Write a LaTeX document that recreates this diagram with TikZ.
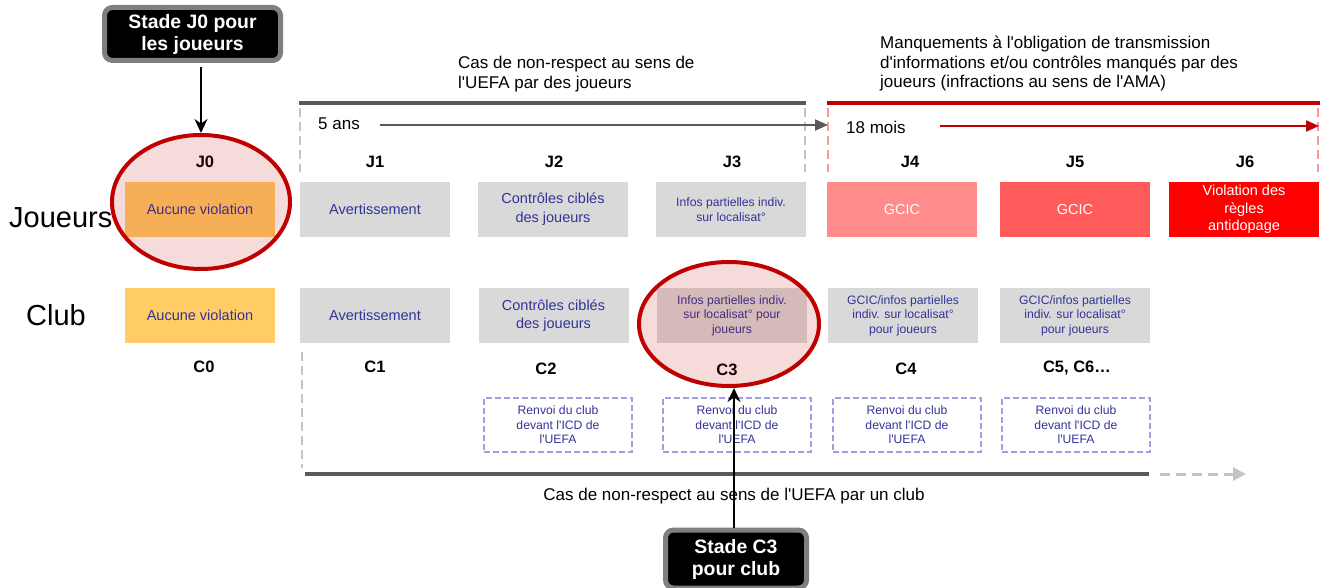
\documentclass[tikz,border=0pt]{standalone}
\usepackage{fontspec}
\setmainfont{Liberation Sans}[Ligatures=TeXOff]
\usepackage{tikz}
\usetikzlibrary{arrows.meta, positioning, calc, shapes.geometric}
\definecolor{UefaGray}{HTML}{595959}
\definecolor{DashGray}{HTML}{C4C4C4}
\definecolor{BoxGray}{HTML}{D9D9D9}
\definecolor{TxtBlue}{RGB}{51, 51, 153}
\definecolor{NoneOrange}{HTML}{FFCC66}
\definecolor{DarkRed}{HTML}{C00000}
\definecolor{PinkDash}{HTML}{FF9999}
\definecolor{RedLight}{HTML}{FF8B8B}
\definecolor{RedMid}{HTML}{FF5B5B}
\definecolor{RedFull}{HTML}{FF0000}
\definecolor{IcdLilac}{HTML}{A0A0E0}
\definecolor{FrameGray}{HTML}{7F7F7F}

\begin{document}
\begin{tikzpicture}[x=1pt, y=-1pt,
        stage/.style={minimum width=150pt, minimum height=55pt, inner sep=1pt, align=center, text=TxtBlue, font=\fontsize{14.5}{19}\selectfont},
        graybox/.style={stage, fill=BoxGray},
        small/.style={font=\fontsize{12.2}{14.5}\selectfont},
        lbl/.style={font=\bfseries\fontsize{16.5}{19}\selectfont},
        plain/.style={inner sep=0pt, align=left, font=\fontsize{17}{19.5}\selectfont},
        icd/.style={draw=IcdLilac, line width=2pt, dash pattern=on 6pt off 3pt, minimum width=148pt, minimum height=54pt, inner sep=1pt, align=center, text=TxtBlue, font=\fontsize{12.2}{14.5}\selectfont},
        circled/.style={ellipse, draw=DarkRed, line width=4pt, fill=DarkRed, fill opacity=0.14, inner sep=0pt},
        stade/.style={fill=black, draw=FrameGray, line width=5pt, rounded corners=8pt, text=white, align=center, font=\bfseries\fontsize{19.4}{22}\selectfont}]
    \useasboundingbox (0,0) rectangle (1320,588);

    % en-tetes
    \node[plain, anchor=west] (casJ) at (458,74) {Cas de non-respect au sens de\\l'UEFA par des joueurs};
    \node[plain, anchor=west] (ama) at (880,64) {Manquements à l'obligation de transmission\\d'informations et/ou contrôles manqués par des\\joueurs (infractions au sens de l'AMA)};
    \draw[UefaGray, line width=4pt] (299,103) -- (806,103);
    \draw[DarkRed, line width=4pt] (827,103) -- (1320,103);
    \draw[DashGray, line width=2.5pt, dash pattern=on 9pt off 5pt] (300,108) -- (300,172);
    \draw[DashGray, line width=2.5pt, dash pattern=on 9pt off 5pt] (805,108) -- (805,172);
    \draw[PinkDash, line width=2.5pt, dash pattern=on 9pt off 5pt] (828,108) -- (828,172);
    \draw[PinkDash, line width=2.5pt, dash pattern=on 9pt off 5pt] (1318,108) -- (1318,172);

    \node[plain, anchor=west] (cinq) at (318,124) {5 ans};
    \coordinate (cinqA) at (380,125);
    \coordinate (cinqB) at (828,125);
    \draw[->, >={Triangle[length=13pt, width=11pt]}, UefaGray, line width=2pt] (cinqA) -- (cinqB);
    \node[plain, anchor=west] (dixhuit) at (846,127) {18 mois};
    \coordinate (dixA) at (940,126);
    \coordinate (dixB) at (1319,126);
    \draw[->, >={Triangle[length=13pt, width=11pt]}, DarkRed, line width=2pt] (dixA) -- (dixB);

    % joueurs
    \node[font=\fontsize{29}{32}\selectfont, inner sep=0pt, anchor=west] (joueurs) at (9,218) {Joueurs};
    \node[lbl] (lj0) at (205,162) {J0};
    \node[lbl] (lj1) at (375,162) {J1};
    \node[lbl] (lj2) at (554,162) {J2};
    \node[lbl] (lj3) at (732,162) {J3};
    \node[lbl] (lj4) at (910,162) {J4};
    \node[lbl] (lj5) at (1075,162) {J5};
    \node[lbl] (lj6) at (1245,162) {J6};

    \node[stage, fill=NoneOrange] (j0) at (200,209.5) {Aucune violation};
    \node[graybox] (j1) at (375,209.5) {Avertissement};
    \node[graybox] (j2) at (553,209.5) {Contrôles ciblés\\des joueurs};
    \node[graybox, small] (j3) at (731,209.5) {Infos partielles indiv.\\sur localisat°};
    \node[stage, fill=RedLight, text=white] (j4) at (902,209.5) {GCIC};
    \node[stage, fill=RedMid, text=white] (j5) at (1075,209.5) {GCIC};
    \node[stage, fill=RedFull, text=white, font=\fontsize{14.5}{17.5}\selectfont] (j6) at (1244,209.5) {Violation des\\règles\\antidopage};

    % club
    \node[font=\fontsize{29}{32}\selectfont, inner sep=0pt] (club) at (56,315) {Club};
    \node[stage, fill=NoneOrange] (c0) at (200,315.5) {Aucune violation};
    \node[graybox] (c1) at (375,315.5) {Avertissement};
    \node[graybox, font=\fontsize{14.5}{18.5}\selectfont] (c2) at (553.5,315.5) {Contrôles ciblés\\des joueurs};
    \node[graybox, small] (c3) at (732,315.5) {Infos partielles indiv.\\sur localisat° pour\\joueurs};
    \node[graybox, small] (c4) at (903,315.5) {GCIC/infos partielles\\indiv. sur localisat°\\pour joueurs};
    \node[graybox, small] (c5) at (1075,315.5) {GCIC/infos partielles\\indiv. sur localisat°\\pour joueurs};

    \node[lbl] (lc0) at (204,367) {C0};
    \node[lbl] (lc1) at (375,367) {C1};
    \node[lbl] (lc2) at (546,369) {C2};
    \node[lbl] (lc3) at (727,370) {C3};
    \node[lbl] (lc4) at (906,369) {C4};
    \node[lbl] (lc5) at (1077,368) {C5, C6…};

    \node[icd] (icd2) at (558,425) {Renvoi du club\\devant l'ICD de\\l'UEFA};
    \node[icd] (icd3) at (737,425) {Renvoi du club\\devant l'ICD de\\l'UEFA};
    \node[icd] (icd4) at (907,425) {Renvoi du club\\devant l'ICD de\\l'UEFA};
    \node[icd] (icd5) at (1076,425) {Renvoi du club\\devant l'ICD de\\l'UEFA};

    % bas
    \draw[DashGray, line width=2.5pt, dash pattern=on 9pt off 5pt] (302,352) -- (302,468);
    \draw[UefaGray, line width=4pt] (305,474) -- (1149,474);
    \coordinate (suiteA) at (1160,474);
    \coordinate (suiteB) at (1246,474);
    \draw[->, >={Triangle[length=13pt, width=13pt]}, DashGray, line width=3pt, dash pattern=on 10pt off 6pt] (suiteA) -- (suiteB);
    \node[plain, anchor=center] (casC) at (734,496) {Cas de non-respect au sens de l'UEFA par un club};

    % stades
    \node[circled, minimum width=178pt, minimum height=134pt] (ellJ0) at (201,202) {};
    \node[circled, minimum width=180pt, minimum height=124pt] (ellC3) at (729,324) {};
    \node[stade, minimum width=176pt, minimum height=53pt] (stadeJ0) at (192.5,34) {Stade J0 pour\\les joueurs};
    \node[stade, minimum width=141pt, minimum height=58pt] (stadeC3) at (736,559) {Stade C3\\pour club};
    \draw[->, >={Stealth[length=14pt, width=13pt]}, line width=2pt] (ellJ0.north |- stadeJ0.south) ++(0,4) -- (ellJ0.north);
    \draw[->, >={Stealth[length=14pt, width=13pt]}, line width=2pt] (stadeC3.north -| 734,0) -- (734,0 |- ellC3.south);
\end{tikzpicture}
\end{document}
